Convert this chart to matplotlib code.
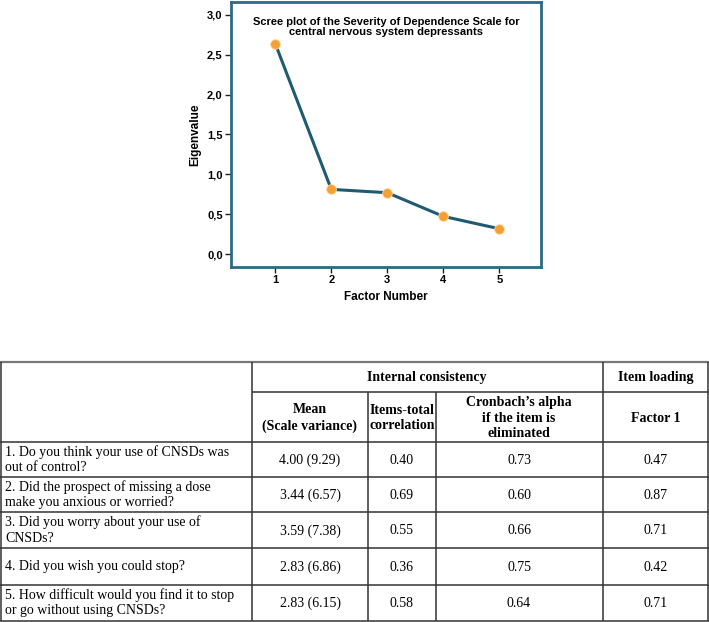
import matplotlib
matplotlib.use('Agg')
from matplotlib import pyplot as plt
from matplotlib.ticker import FuncFormatter

# scree plot data
factors = [1, 2, 3, 4, 5]
eigenvalues = [2.636, 0.813, 0.771, 0.475, 0.32]

# table data
items = ['1. Do you think your use of CNSDs was\nout of control?',
         '2. Did the prospect of missing a dose\nmake you anxious or worried?',
         '3. Did you worry about your use of\nCNSDs?',
         '4. Did you wish you could stop?',
         '5. How difficult would you find it to stop\nor go without using CNSDs?']
means = [4.00, 3.44, 3.59, 2.83, 2.83]
variances = [9.29, 6.57, 7.38, 6.86, 6.15]
item_total = [0.40, 0.69, 0.55, 0.36, 0.58]
alpha_if_deleted = [0.73, 0.60, 0.66, 0.75, 0.64]
loadings = [0.47, 0.87, 0.71, 0.42, 0.71]

W, H = 709, 622
fig = plt.figure(figsize=(W / 100, H / 100), dpi=100)

frame_col = '#2b6a86'
line_col = '#1e5b73'
dot_col = '#f5a033'

# ---- scree plot ----
ax = fig.add_axes([231 / W, 1 - 267 / H, 310 / W, 265.5 / H])
ax.plot(factors, eigenvalues, color=line_col, lw=2.2, zorder=2)
ax.plot(factors, eigenvalues, 'o', color=dot_col, ms=7, mec='#ffd9a0', mew=0.6, zorder=3)
ax.set_xlim(0.209, 5.745)
ax.set_ylim(-0.159, 3.165)
ax.set_xticks(factors)
ax.set_yticks([0, 0.5, 1.0, 1.5, 2.0, 2.5, 3.0])
ax.yaxis.set_major_formatter(FuncFormatter(lambda v, p: ('%.1f' % v).replace('.', ',')))
for s in ax.spines.values():
    s.set_color(frame_col)
    s.set_linewidth(2)
ax.tick_params(direction='out', length=4, width=1, color='#222222', pad=2,
               labelsize=8)
for lab in ax.get_xticklabels() + ax.get_yticklabels():
    lab.set_fontweight('bold')
    lab.set_family('Liberation Sans')
ax.set_xlabel('Factor Number', fontsize=8.5, fontweight='bold', family='Liberation Sans', labelpad=4)
ax.set_ylabel('Eigenvalue', fontsize=8.5, fontweight='bold', family='Liberation Sans', labelpad=4)
ax.text(0.5, 0.94, 'Scree plot of the Severity of Dependence Scale for\ncentral nervous system depressants',
        transform=ax.transAxes, ha='center', va='top', fontsize=8, fontweight='bold',
        family='Liberation Sans', linespacing=1.0)

# ---- table ----
tb = fig.add_axes([0, 0, 1, 1])
tb.set_xlim(0, W)
tb.set_ylim(H, 0)
tb.axis('off')

lc = '#333333'
lw = 1.1
rows_y = [442, 477, 512, 548, 585, 620.5]
tb.hlines(362, 0, W, color='#777777', lw=1.6)
tb.hlines(392, 252, W, color=lc, lw=lw)
tb.hlines(rows_y, 0, W, color=lc, lw=lw)
tb.vlines([0.6, 252, 602.5, 708.4], 362, 620.5, color=lc, lw=lw)
tb.vlines([368, 436], 392, 620.5, color=lc, lw=lw)

serif = 'Liberation Serif'
fs = 10
hdr = dict(ha='center', va='center', fontsize=fs, fontweight='bold', family=serif, linespacing=1.25)
tb.text(427, 378, 'Internal consistency', **hdr)
tb.text(656, 378, 'Item loading', **hdr)
tb.text(310, 418, 'Mean\n(Scale variance)', **hdr)
tb.text(402, 418, 'Items-total\ncorrelation', **hdr)
tb.text(519, 418, 'Cronbach\u2019s alpha\nif the item is\neliminated', **hdr)
tb.text(656, 418, 'Factor 1', **hdr)

tops = [442] + rows_y[1:-1]
bots = rows_y[1:]
cell = dict(ha='center', va='center', fontsize=fs, family=serif)
for i in range(len(items)):
    yc = (tops[i] + bots[i]) / 2
    tb.text(5, yc, items[i], ha='left', va='center', fontsize=fs, family=serif, linespacing=1.25)
    tb.text(310, yc + 1, '%.2f (%.2f)' % (means[i], variances[i]), **cell)
    tb.text(402, yc + 1, '%.2f' % item_total[i], **cell)
    tb.text(519, yc + 1, '%.2f' % alpha_if_deleted[i], **cell)
    tb.text(656, yc + 1, '%.2f' % loadings[i], **cell)

fig.savefig('out.png', dpi=100)
